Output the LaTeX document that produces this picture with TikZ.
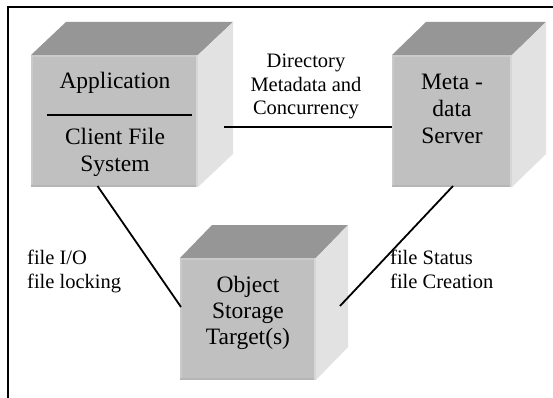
\documentclass[tikz,border=0pt]{standalone}
\usepackage{fontspec}
\setmainfont{Liberation Serif}
\definecolor{cubefront}{HTML}{C0C0C0}
\definecolor{cubetop}{HTML}{969696}
\definecolor{cubeside}{HTML}{E2E2E2}
\definecolor{bevellight}{HTML}{CACACA}
\definecolor{beveldark}{HTML}{B5B5B5}
\definecolor{bevelright}{HTML}{D6D6D6}
\newcommand\drawcube[6]{% name, x, y, width, height, depth
  \node[frontface, minimum width=#4, minimum height=#5, anchor=north west] (#1) at (#2,#3) {};
  \fill[cubetop] (#1.north west) -- ++(#6,-33) -- ([shift={(#6,-33)}]#1.north east) -- (#1.north east) -- cycle;
  \fill[cubeside] (#1.north east) -- ++(#6,-33) -- ([shift={(#6,-33)}]#1.south east) -- (#1.south east) -- cycle;
  \draw[bevel, bevellight] ([shift={(1,0)}]#1.south west) -- ([shift={(1,1)}]#1.north west) -- ([shift={(0,1)}]#1.north east);
  \draw[bevel, bevelright] ([shift={(-1,0)}]#1.north east) -- ([shift={(-1,0)}]#1.south east);
  \draw[bevel, beveldark] ([shift={(0,-1)}]#1.south west) -- ([shift={(-2,-1)}]#1.south east);
}
\begin{document}
\begin{tikzpicture}[x=1pt,y=-1pt,
  frontface/.style={fill=cubefront, draw=none, inner sep=0pt, outer sep=0pt},
  bevel/.style={line width=2pt},
  conn/.style={line width=1.8pt},
  maintext/.style={font=\fontsize{23.5}{26}\selectfont, align=center, anchor=base, inner sep=0pt},
  labeltext/.style={font=\fontsize{20.5}{23.5}\selectfont, anchor=base, inner sep=0pt}]
\useasboundingbox (0,0) rectangle (553,398);
\fill[white] (0,0) rectangle (553,398);
% frame
\coordinate (frtr) at (553,7);
\coordinate (frtl) at (8,7);
\coordinate (frbl) at (8,398);
\draw[line width=1.8pt] (frtr) -- (frtl) -- (frbl);
% cubes
\drawcube{app}{31}{55}{167pt}{132pt}{35}
\drawcube{mds}{392}{55}{120pt}{132pt}{34}
\drawcube{ost}{180}{258}{136pt}{122pt}{32}
% cube texts
\node[maintext] (apptxt) at (115,89) {Application};
\draw[line width=1.3pt] ([shift={(16,60)}]app.north west) -- ([shift={(-6,60)}]app.north east);
\node[maintext] (cfstxt) at (115,171) {Client File\\System};
\node[maintext, font=\fontsize{23.5}{27}\selectfont] (mdstxt) at (452,143) {Meta -\\data\\Server};
\node[maintext] (osttxt) at (248,344) {Object\\Storage\\Target(s)};
% connectors
\draw[conn] ([shift={(26,6)}]app.east) -- ([shift={(0,6)}]mds.west);
\draw[conn] ([shift={(-17,-1)}]app.south) -- ([shift={(1,-12)}]ost.west);
\draw[conn] ([shift={(1,-1)}]mds.south) -- ([shift={(24,-13)}]ost.east);
% labels
\node[labeltext, align=center] (dirlbl) at (306,115) {Directory\\Metadata and\\Concurrency};
\node[labeltext, align=left, anchor=base west] (iolbl) at (27,288) {file I/O\\file locking};
\node[labeltext, align=left, anchor=base west] (stlbl) at (390,288) {file Status\\file Creation};
\end{tikzpicture}
\end{document}
